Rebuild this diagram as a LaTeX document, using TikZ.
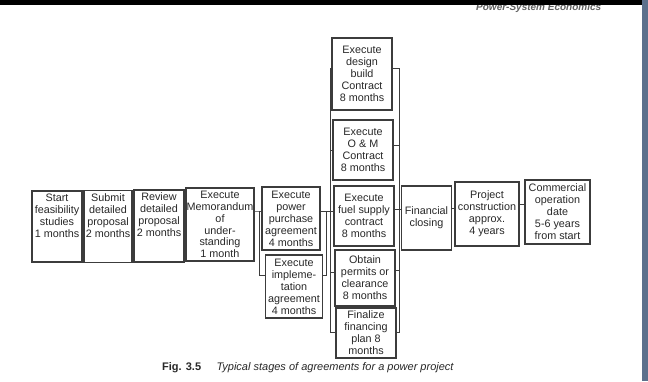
\documentclass[tikz,border=0pt]{standalone}
\usepackage{fontspec}
\setmainfont{Liberation Sans}
\definecolor{linec}{RGB}{60,60,60}
\definecolor{textc}{RGB}{40,40,40}
\definecolor{edgec}{RGB}{92,112,140}
\newcommand{\bxt}[4]{\parbox[c][#1pt][#3]{#2pt}{\centering #4\par}}
\begin{document}
\begin{tikzpicture}[x=1pt,y=-1pt,
  bx/.style={draw=linec, line width=1.3pt, inner sep=0pt, outer sep=0pt, text=textc,
             font=\fontsize{10.8}{12}\selectfont},
  conn/.style={draw=linec, line width=1pt}]
\useasboundingbox (0,0) rectangle (648,381);
\fill[white] (0,0) rectangle (648,381);
% photo frame
\node[anchor=base west, font=\fontsize{10}{10}\selectfont\bfseries\itshape, text=gray!75!black, inner sep=0pt] (hdr) at (476,10) {Power-System Economics};
\fill[black] (0,0) rectangle (648,4.5);
\fill[edgec] (642,0) rectangle (648,381);
% first row
\node[bx] (b1) at (57,226.5) {\bxt{71}{50}{t}{\vspace*{3pt}Start\\feasibility\\studies\\1 months}};
\node[bx] (b2) at (108,226.5) {\bxt{72}{48}{t}{\vspace*{3pt}Submit\\detailed\\proposal\\2 months}};
\node[bx] (b3) at (159,226) {\bxt{72}{50}{t}{\vspace*{3pt}Review\\detailed\\proposal\\2 months}};
\node[bx] (b4) at (220,224.5) {\bxt{73}{68}{c}{\baselineskip=11.7pt Execute\\Memorandum\\of\\under-\\standing\\1 month}};
\node[bx] (b5) at (291,218.5) {\bxt{63}{58}{c}{Execute\\power\\purchase\\agreement\\4 months}};
\node[bx] (b6) at (294,286.5) {\bxt{63}{57}{c}{Execute\\impleme-\\tation\\agreement\\4 months}};
% column
\node[bx] (b7) at (362,74) {\bxt{72}{60}{c}{Execute\\design\\build\\Contract\\8 months}};
\node[bx] (b8) at (363,150) {\bxt{60}{60}{c}{Execute\\O \& M\\Contract\\8 months}};
\node[bx] (b9) at (364,216) {\bxt{60}{60}{c}{Execute\\fuel supply\\contract\\8 months}};
\node[bx] (b10) at (365,278) {\bxt{56}{60}{c}{Obtain\\permits or\\clearance\\8 months}};
\node[bx] (b11) at (366,333) {\bxt{50}{60}{c}{Finalize\\financing\\plan 8\\months}};
% last row
\node[bx] (fin) at (426.5,218) {\bxt{64}{50}{c}{Financial\\closing}};
\node[bx] (proj) at (487,214) {\bxt{64}{64}{c}{Project\\construction\\approx.\\4 years}};
\node[bx] (comm) at (557.5,212) {\bxt{64}{65}{c}{Commercial\\operation\\date\\5-6 years\\from start}};
% connectors, first row
\draw[conn] (b1.east |- 0,214) -- (b2.west |- 0,214);
\draw[conn] (b2.east |- 0,214) -- (b3.west |- 0,214);
\draw[conn] (b3.east |- 0,213) -- (b4.west |- 0,213);
\coordinate (a1) at (259,211);
\coordinate (a2) at (259,275);
\draw[conn] (b4.east |- a1) -- (a1) -- (b5.west |- a1);
\draw[conn] (a1) -- (a2) -- (b6.west |- a2);
\coordinate (r1) at (326,211);
\coordinate (r2) at (326,275);
\draw[conn] (b6.east |- r2) -- (r2) -- (r1);
\draw[conn] (b5.east |- r1) -- (b9.west |- r1);
% left bus of column
\coordinate (c1) at (330,68);
\coordinate (c5) at (330,332);
\draw[conn] (b7.west |- c1) -- (c1) -- (c5) -- (b11.west |- c5);
\draw[conn] (330,150) -- (b8.west |- 0,150);
\draw[conn] (330,272) -- (b10.west |- 0,272);
% right bus of column
\coordinate (d1) at (399,68);
\coordinate (d5) at (399,332);
\draw[conn] (b7.east |- d1) -- (d1) -- (d5) -- (b11.east |- d5);
\draw[conn] (b8.east |- 0,145) -- (399,145);
\draw[conn] (b10.east |- 0,270) -- (399,270);
\draw[conn] (b9.east |- 0,209) -- (fin.west |- 0,209);
\draw[conn] (fin.east |- 0,208) -- (proj.west |- 0,208);
\draw[conn] (proj.east |- 0,204) -- (comm.west |- 0,204);
% caption
\node[anchor=base west, inner sep=0pt, text=textc, font=\fontsize{11}{13}\selectfont] (cap) at (162,370)
  {\textbf{Fig. 3.5}\hspace{1.4em}\textit{Typical stages of agreements for a power project}};
\end{tikzpicture}
\end{document}
